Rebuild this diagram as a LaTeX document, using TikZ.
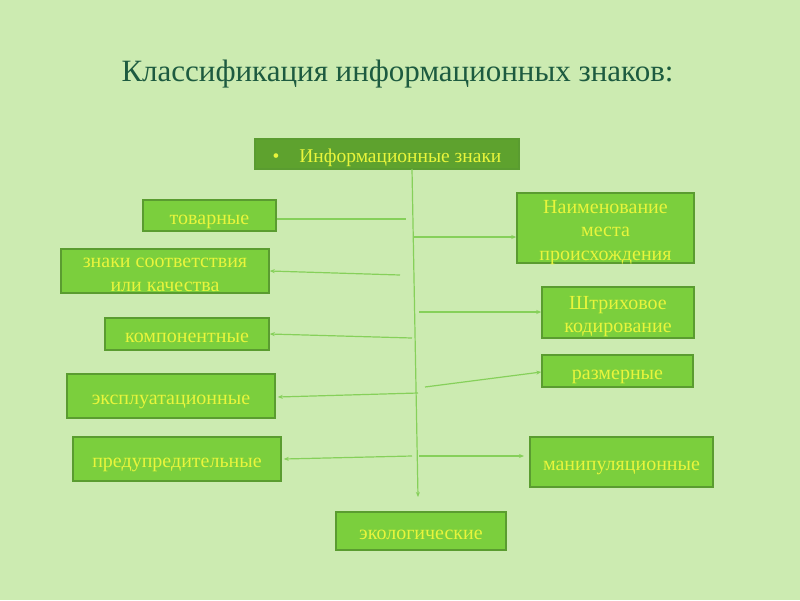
\documentclass[tikz,border=0pt]{standalone}
\usepackage{fontspec}
\setmainfont{Liberation Serif}
\usetikzlibrary{arrows.meta}
\definecolor{bg}{HTML}{CCEBB1}
\definecolor{boxfill}{HTML}{7BCF3D}
\definecolor{topfill}{HTML}{5EA22E}
\definecolor{boxline}{HTML}{5A9C30}
\definecolor{boxtext}{HTML}{E8F53C}
\definecolor{titlec}{HTML}{1D5B40}
\definecolor{linec}{HTML}{86D05A}
\newcommand{\mlines}[1]{\begin{tabular}[b]{@{}c@{}}#1\end{tabular}}
\begin{document}
\begin{tikzpicture}[x=1pt,y=-1pt,
  box/.style={draw=boxline, fill=boxfill, line width=1.5pt, text=boxtext,
    font=\fontsize{20}{23.5}\selectfont, inner sep=0pt,
    text depth=0pt, text height=17pt},
  twol/.style={text height=40.5pt},
  threel/.style={text height=64pt},
  conn/.style={draw=linec, line width=1.2pt},
  arr/.style={conn, -{Stealth[length=5pt,width=4pt]}}]
\fill[bg] (0,0) rectangle (800,600);
\useasboundingbox (0,0) rectangle (800,600);
\node[text=titlec, font=\fontsize{31}{36}\selectfont, anchor=base] (title) at (397.5,81) {Классификация информационных знаков:};

\node[box, fill=topfill, font=\fontsize{19.5}{23}\selectfont, minimum width=264pt, minimum height=30pt] (top) at (387,154) {\textbullet\hspace{20pt}Информационные знаки};
\node[box, minimum width=133pt, minimum height=31pt] (tov) at (209.5,215.5) {товарные};
\node[box, twol, minimum width=208pt, minimum height=44pt] (zn) at (165,271) {\mlines{знаки соответствия\\или качества}};
\node[box, minimum width=164pt, minimum height=32pt] (komp) at (187,334) {компонентные};
\node[box, minimum width=208pt, minimum height=44pt] (eksp) at (171,396) {эксплуатационные};
\node[box, minimum width=208pt, minimum height=44pt] (pred) at (177,459) {предупредительные};
\node[box, threel, minimum width=177pt, minimum height=70pt] (naim) at (605.5,228) {\mlines{Наименование\\места\\происхождения}};
\node[box, twol, minimum width=152pt, minimum height=51pt] (shtr) at (618,312.5) {\mlines{Штриховое\\кодирование}};
\node[box, minimum width=151pt, minimum height=32pt] (razm) at (617.5,371) {размерные};
\node[box, minimum width=183pt, minimum height=50pt] (manip) at (621.5,462) {манипуляционные};
\node[box, minimum width=170pt, minimum height=38pt] (ekol) at (421,531) {экологические};

\coordinate (v0) at (412,169);
\coordinate (v1) at (418,497);
\coordinate (c1) at (406,219);
\coordinate (c2) at (400,275);
\coordinate (c3) at (412,338);
\coordinate (c4) at (418,393);
\coordinate (c5) at (412,456);
\coordinate (d1) at (413,237);
\coordinate (d2) at (419,312);
\coordinate (d3) at (425,387);
\coordinate (d4) at (419,456);
\coordinate (e4) at (524,456);

\draw[arr] (v0) -- (v1);
\draw[conn] (c1 -| tov.east) -- (c1);
\draw[arr] (c2) -- (zn.east);
\draw[arr] (c3) -- (komp.east);
\draw[arr] (c4) -- ([xshift=2pt,yshift=-1pt]eksp.east);
\draw[arr] (c5) -- ([xshift=2pt]pred.east);
\draw[arr] (d1) -- (d1 -| naim.west);
\draw[arr] (d2) -- (d2 -| shtr.west);
\draw[arr] (d3) -- ([yshift=-1pt]razm.west);
\draw[arr] (d4) -- (e4);
\end{tikzpicture}
\end{document}
